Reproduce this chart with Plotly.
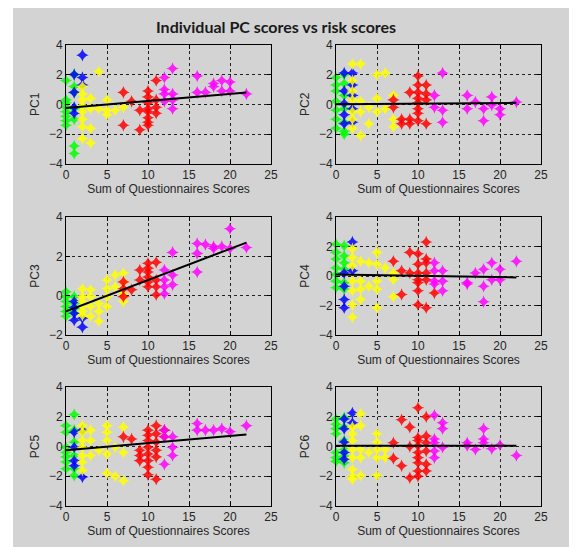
import plotly.graph_objects as go

# ---------------- data ----------------
title_text = "Individual PC scores vs risk scores"
x_label = "Sum of Questionnaires Scores"
panel_names = ["PC1", "PC2", "PC3", "PC4", "PC5", "PC6"]
x_ticks = [0, 5, 10, 15, 20, 25]
y_ticks_default = [-4, -2, 0, 2, 4]
y_ticks_pc3 = [-2, 0, 2, 4]

group_colors = ["#00ff00", "#0000ff", "#ffff00", "#ff0000", "#ff00ff"]

# PC1
pc1_green_x = [0, 0, 0, 0, 0, 0, 0, 0, 1, 1, 1, 1, 1, 1, 1]
pc1_green_y = [1.6, 0.3, 0.1, -0.2, -0.5, -0.8, -1.1, -1.4, 2.0, 1.2, 0.8, -0.3, -1.0, -2.8, -3.3]
pc1_blue_x = [1, 1, 1, 1, 2, 2, 2]
pc1_blue_y = [2.0, 0.8, -0.2, -0.6, 3.3, 1.8, 1.3]
pc1_yellow_x = [2, 2, 2, 2, 2, 2, 2, 2, 3, 3, 3, 3, 4, 4, 5, 5, 5, 6, 7]
pc1_yellow_y = [1.2, 0.7, 0.3, -0.1, -0.5, -1.0, -1.5, -2.3, 0.4, -0.3, -1.6, -2.6, 2.2, -0.3, 0.3, -0.4, -0.7, -0.4, -0.2]
pc1_red_x = [7, 7, 8, 9, 9, 10, 10, 10, 10, 10, 10, 10, 10, 11, 11, 11, 11]
pc1_red_y = [0.8, -1.4, 0.2, -0.4, -1.7, 0.9, 0.5, 0.1, -0.3, -0.5, -0.9, -1.2, -1.4, 1.6, 0.3, -0.2, -0.6]
pc1_magenta_x = [12, 12, 12, 12, 13, 13, 13, 13, 16, 16, 17, 18, 18, 19, 19, 20, 20, 22]
pc1_magenta_y = [1.8, 1.0, 0.7, 0.2, 2.4, 0.7, 0.3, -0.3, 1.9, 0.8, 0.8, 1.4, 1.2, 1.6, 0.9, 1.5, 0.9, 0.7]

# PC2
pc2_green_x = [0, 0, 0, 0, 0, 0, 0, 1, 1, 1, 1, 1, 1, 1]
pc2_green_y = [1.8, 1.3, 0.9, 0.2, -0.4, -1.0, -1.6, 2.0, 1.4, 0.6, -0.3, -1.2, -1.8, -2.0]
pc2_blue_x = [1, 1, 1, 1, 1, 2, 2, 2, 2, 2]
pc2_blue_y = [2.1, 0.9, 0.05, -0.7, -1.3, 2.1, 1.3, 0.6, -0.3, -1.2]
pc2_yellow_x = [2, 2, 2, 2, 2, 2, 2, 3, 3, 3, 3, 4, 4, 5, 5, 5, 6, 6, 7, 7, 7]
pc2_yellow_y = [2.7, 1.6, 0.9, 0.3, -0.5, -1.0, -1.6, 2.7, 0.2, -0.5, -2.1, -0.2, -1.3, 2.0, 0.4, -0.5, 2.1, -0.3, 0.6, -1.0, -1.5]
pc2_red_x = [7, 7, 8, 8, 9, 9, 9, 10, 10, 10, 10, 10, 10, 10, 10, 11, 11, 11, 11]
pc2_red_y = [0.3, -0.2, -1.0, -1.3, 0.8, -1.0, -1.3, 1.9, 1.3, 0.8, 0.4, 0.1, -0.3, -0.6, -1.1, 1.3, 0.7, 0.3, -1.3]
pc2_magenta_x = [12, 12, 13, 13, 13, 16, 16, 17, 18, 18, 19, 19, 20, 20, 22]
pc2_magenta_y = [0.6, -0.2, 2.1, -0.4, -1.2, 0.6, -0.3, 0.15, -0.3, -1.1, 0.5, -0.05, -0.3, -0.7, 0.15]

# PC3
pc3_green_x = [0, 0, 0, 0, 0, 0, 1, 1, 1, 1]
pc3_green_y = [0.2, -0.05, -0.3, -0.55, -0.8, -1.05, -0.05, -0.4, -0.65, -0.9]
pc3_blue_x = [1, 1, 1, 1, 2, 2]
pc3_blue_y = [-0.3, -0.6, -0.9, -1.25, -1.15, -1.6]
pc3_yellow_x = [2, 2, 2, 2, 2, 2, 3, 3, 3, 3, 4, 4, 4, 5, 5, 5, 5, 6, 6, 7, 7, 7, 7]
pc3_yellow_y = [0.35, -0.05, -0.3, -0.55, -0.8, -1.0, 0.3, -0.05, -0.55, -1.05, -0.4, -0.8, -1.3, 0.8, 0.35, -0.05, -0.55, 1.05, 0.45, 1.15, 0.7, 0.1, -0.3]
pc3_red_x = [7, 7, 7, 8, 9, 9, 10, 10, 10, 10, 10, 10, 11, 11, 11, 11]
pc3_red_y = [0.7, 0.35, -0.05, 0.3, 1.3, 0.8, 1.65, 1.4, 1.2, 0.95, 0.7, 0.45, 1.7, 0.8, 0.45, 0.05]
pc3_magenta_x = [12, 12, 12, 12, 13, 13, 13, 16, 16, 16, 17, 18, 18, 19, 20, 20, 22]
pc3_magenta_y = [1.3, 0.8, 0.45, 0.1, 2.2, 1.05, 0.55, 2.65, 2.15, 1.2, 2.6, 2.5, 2.4, 2.5, 3.4, 2.4, 2.45]

# PC4
pc4_green_x = [0, 0, 0, 0, 0, 0, 0, 1, 1, 1, 1, 1, 1]
pc4_green_y = [2.15, 1.6, 1.15, 0.55, 0.1, -0.35, -0.8, 2.05, 1.35, 0.9, 0.45, -0.45, -0.9]
pc4_blue_x = [1, 1, 1, 1, 2, 2]
pc4_blue_y = [0.2, -0.7, -1.6, -2.15, 2.3, 0.35]
pc4_yellow_x = [2, 2, 2, 2, 2, 2, 2, 3, 3, 3, 3, 4, 4, 5, 5, 5, 5, 5, 6, 7, 7, 7]
pc4_yellow_y = [1.85, 1.25, 0.7, -0.35, -1.0, -1.95, -2.8, 1.0, -0.35, -0.9, -1.6, 0.9, -0.7, 1.6, 0.8, -0.35, -0.9, -2.15, 0.55, 0.2, -0.25, -1.4]
pc4_red_x = [7, 8, 8, 9, 9, 10, 10, 10, 10, 10, 10, 10, 11, 11, 11, 11, 11, 11, 12]
pc4_red_y = [1.0, 0.35, -1.25, 1.6, 0.2, 1.5, 0.8, 0.2, -0.25, -0.45, -1.0, -1.95, 2.3, 1.15, 0.9, 0.2, -0.25, -2.15, -1.15]
pc4_magenta_x = [12, 12, 12, 12, 13, 13, 13, 16, 16, 17, 18, 18, 18, 19, 19, 20, 20, 22]
pc4_magenta_y = [0.9, 0.35, -0.35, -0.55, 0.35, -0.35, -1.0, -0.45, -0.55, 0.2, 0.45, -0.7, -1.75, 0.9, -0.25, 0.45, -0.25, 1.0]

# PC5
pc5_green_x = [0, 0, 0, 0, 0, 0, 0, 1, 1, 1, 1, 1, 1]
pc5_green_y = [1.4, 0.95, -0.05, -0.4, -0.7, -1.05, -1.5, 2.15, 1.1, 0.3, -0.6, -1.5, -1.95]
pc5_blue_x = [1, 1, 1, 1, 2, 2]
pc5_blue_y = [0.95, -0.05, -0.95, -1.3, 1.1, -2.05]
pc5_yellow_x = [2, 2, 2, 2, 2, 2, 2, 3, 3, 3, 4, 5, 5, 5, 5, 5, 6, 6, 7, 7, 7]
pc5_yellow_y = [1.4, 0.95, 0.4, -0.05, -0.6, -1.05, -1.6, 1.1, 0.4, -0.6, -0.25, 1.4, 0.95, 0.4, -0.5, -1.8, -0.05, -2.0, 1.3, -0.4, -2.3]
pc5_red_x = [7, 8, 9, 9, 9, 10, 10, 10, 10, 10, 10, 10, 10, 11, 11, 11, 11, 11, 11, 12, 12]
pc5_red_y = [0.65, 0.5, -0.25, -0.6, -0.95, 1.1, 0.75, 0.4, -0.05, -0.5, -0.95, -1.4, -1.9, 1.4, 0.85, 0.3, -0.25, -0.7, -2.2, 1.1, 0.65]
pc5_magenta_x = [12, 12, 12, 13, 13, 13, 16, 16, 17, 18, 19, 20, 22]
pc5_magenta_y = [1.1, 0.65, -1.2, 0.65, -0.05, -0.6, 1.55, 1.1, 1.1, 1.1, 1.2, 1.0, 1.4]

# PC6
pc6_green_x = [0, 0, 0, 0, 0, 0, 0, 1, 1, 1, 1, 1, 1]
pc6_green_y = [1.85, 1.5, 1.2, 0.85, -0.4, -0.75, -1.0, 1.95, 1.3, 0.4, -0.2, -0.65, -1.1]
pc6_blue_x = [1, 1, 1, 1, 1, 2, 2]
pc6_blue_y = [1.85, 1.2, 0.3, -0.4, -0.85, 2.25, 1.6]
pc6_yellow_x = [2, 2, 2, 2, 2, 2, 2, 2, 3, 3, 3, 3, 3, 4, 5, 5, 5, 5, 5, 6, 6]
pc6_yellow_y = [1.3, 0.85, 0.4, -0.2, -0.75, -1.55, -2.0, -2.2, 2.2, 1.4, -0.2, -0.75, -1.95, -0.4, 0.85, 0.3, -0.2, -0.75, -1.95, -0.2, -0.75]
pc6_red_x = [7, 7, 8, 8, 9, 9, 9, 10, 10, 10, 10, 10, 10, 10, 10, 10, 11, 11, 11, 11, 11, 11]
pc6_red_y = [0.25, -0.8, 1.8, -1.3, 1.3, 0.0, -2.1, 2.6, 0.6, 0.4, 0.05, -0.4, -0.75, -1.1, -1.65, -2.0, 2.0, 0.7, 0.25, -0.3, -1.2, -1.65]
pc6_magenta_x = [12, 12, 12, 12, 12, 13, 13, 13, 16, 16, 17, 18, 18, 18, 19, 20, 22]
pc6_magenta_y = [2.1, 0.5, 0.25, -0.3, -0.75, 1.6, 1.2, -0.05, 0.25, 0.05, -0.2, 1.2, 0.5, 0.25, -0.15, 0.1, -0.6]

# fitted regression lines (end points)
fit_x = [0, 22]
fit_pc1 = [-0.25, 0.8]
fit_pc2 = [0.0, 0.1]
fit_pc3 = [-0.8, 2.7]
fit_pc4 = [0.1, -0.1]
fit_pc5 = [-0.25, 0.8]
fit_pc6 = [0.05, 0.05]

# ---------------- assembly ----------------
panels = [
    [(pc1_green_x, pc1_green_y), (pc1_blue_x, pc1_blue_y), (pc1_yellow_x, pc1_yellow_y),
     (pc1_red_x, pc1_red_y), (pc1_magenta_x, pc1_magenta_y)],
    [(pc2_green_x, pc2_green_y), (pc2_blue_x, pc2_blue_y), (pc2_yellow_x, pc2_yellow_y),
     (pc2_red_x, pc2_red_y), (pc2_magenta_x, pc2_magenta_y)],
    [(pc3_green_x, pc3_green_y), (pc3_blue_x, pc3_blue_y), (pc3_yellow_x, pc3_yellow_y),
     (pc3_red_x, pc3_red_y), (pc3_magenta_x, pc3_magenta_y)],
    [(pc4_green_x, pc4_green_y), (pc4_blue_x, pc4_blue_y), (pc4_yellow_x, pc4_yellow_y),
     (pc4_red_x, pc4_red_y), (pc4_magenta_x, pc4_magenta_y)],
    [(pc5_green_x, pc5_green_y), (pc5_blue_x, pc5_blue_y), (pc5_yellow_x, pc5_yellow_y),
     (pc5_red_x, pc5_red_y), (pc5_magenta_x, pc5_magenta_y)],
    [(pc6_green_x, pc6_green_y), (pc6_blue_x, pc6_blue_y), (pc6_yellow_x, pc6_yellow_y),
     (pc6_red_x, pc6_red_y), (pc6_magenta_x, pc6_magenta_y)],
]
fits = [fit_pc1, fit_pc2, fit_pc3, fit_pc4, fit_pc5, fit_pc6]

W, H = 577, 547
OFF = 8  # the page body has an 8px margin; positions below are window pixels
col_px = [(66, 271), (336, 541)]
row_px = [(44.7, 164), (217, 335), (387, 506)]


def px_x(p):
    return (p - OFF) / W


def px_y(p):
    return 1 - (p - OFF) / H


fig = go.Figure()
layout_axes = {}
for i in range(6):
    r, c = divmod(i, 2)
    sfx = "" if i == 0 else str(i + 1)
    xa, ya = "x" + sfx, "y" + sfx
    for (gx, gy), col in zip(panels[i], group_colors):
        fig.add_trace(go.Scatter(
            x=gx, y=gy, mode="markers", xaxis=xa, yaxis=ya, showlegend=False,
            cliponaxis=False,
            marker=dict(symbol="star-diamond", size=9, color=col, opacity=0.85,
                        line=dict(width=0))))
    fig.add_trace(go.Scatter(x=fit_x, y=fits[i], mode="lines", xaxis=xa, yaxis=ya,
                             showlegend=False, line=dict(color="black", width=2)))
    x0, x1 = col_px[c]
    t0, t1 = row_px[r]
    yticks = y_ticks_pc3 if i == 2 else y_ticks_default
    yr = [-2, 4] if i == 2 else [-4, 4]
    common = dict(showline=True, linecolor="black", linewidth=1, mirror="ticks",
                  ticks="inside", ticklen=4, tickcolor="black",
                  showgrid=True, gridcolor="#222222", griddash="dot", gridwidth=1,
                  zeroline=False, automargin=False,
                  tickfont=dict(family="Liberation Sans", size=12, color="#262626"),
                  title_font=dict(family="Liberation Sans", size=12, color="#262626"))
    layout_axes["xaxis" + sfx] = dict(common, domain=[px_x(x0), px_x(x1)], anchor=ya,
                                      range=[0, 25], tickvals=x_ticks,
                                      title=dict(text=x_label, standoff=1))
    layout_axes["yaxis" + sfx] = dict(common, domain=[px_y(t1), px_y(t0)], anchor=xa,
                                      range=yr, tickvals=yticks,
                                      title=dict(text=panel_names[i], standoff=6))

fig.update_layout(
    **layout_axes,
    width=W, height=H,
    margin=dict(l=0, r=0, t=0, b=0),
    paper_bgcolor="white", plot_bgcolor="white",
    showlegend=False,
    shapes=[dict(type="rect", xref="paper", yref="paper", x0=px_x(13), x1=1.0,
                 y0=0.0, y1=px_y(8), fillcolor="#d3d3d3", line=dict(width=0), layer="below")],
    annotations=[dict(text="<b>" + title_text + "</b>", xref="paper", yref="paper",
                      x=px_x(276), y=px_y(26), showarrow=False, xanchor="center", yanchor="middle",
                      font=dict(family="Lato", size=16, color="#1a1a1a"))],
)

fig.write_html("out.html")
